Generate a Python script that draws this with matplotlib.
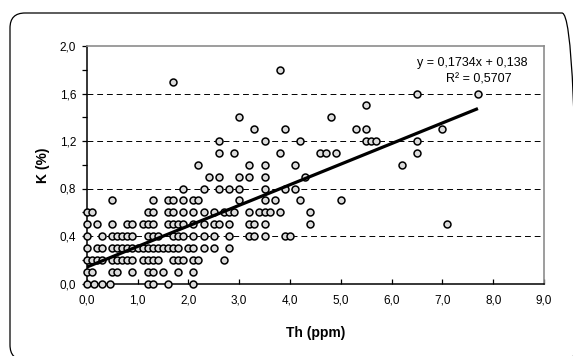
import numpy as np
import matplotlib
matplotlib.use('Agg')
import matplotlib.pyplot as plt
from matplotlib.patches import FancyBboxPatch
from matplotlib.ticker import MultipleLocator, FuncFormatter

# K (%) levels and the Th (ppm) values read for each level
k_levels = [0.0, 0.1, 0.2, 0.3, 0.4, 0.5, 0.6, 0.7, 0.8, 0.9,
            1.0, 1.1, 1.2, 1.3, 1.4, 1.5, 1.6, 1.7, 1.8]
th_by_k = [
    [0.0, 0.15, 0.3, 0.45, 1.2, 1.3, 1.6, 2.1],
    [0.0, 0.1, 0.5, 0.6, 0.9, 1.2, 1.3, 1.5, 1.8, 2.1],
    [0.0, 0.1, 0.2, 0.3, 0.5, 0.6, 0.7, 0.8, 0.9, 1.1, 1.2, 1.3, 1.4,
     1.7, 1.8, 1.9, 2.1, 2.2, 2.7],
    [0.0, 0.2, 0.3, 0.5, 0.6, 0.7, 0.8, 0.9, 1.0, 1.1, 1.2, 1.3, 1.4,
     1.5, 1.6, 1.7, 1.8, 2.0, 2.1, 2.3, 2.5, 2.8],
    [0.0, 0.3, 0.5, 0.6, 0.7, 0.8, 0.9, 1.2, 1.3, 1.4, 1.7, 1.8, 1.9,
     2.1, 2.3, 2.5, 2.8, 3.2, 3.3, 3.5, 3.9, 4.0],
    [0.0, 0.2, 0.5, 0.8, 0.9, 1.1, 1.2, 1.3, 1.6, 1.7, 1.8, 1.9, 2.1,
     2.3, 2.5, 2.6, 2.8, 3.2, 3.3, 3.5, 4.4, 7.1],
    [0.0, 0.1, 1.2, 1.3, 1.6, 1.7, 1.9, 2.1, 2.3, 2.5, 2.7, 2.8, 2.9,
     3.2, 3.4, 3.5, 3.6, 3.8, 4.4],
    [0.5, 1.3, 1.6, 1.7, 1.9, 2.1, 2.2, 3.0, 3.5, 3.7, 4.2, 5.0],
    [1.9, 2.3, 2.6, 2.8, 3.0, 3.5, 3.9, 4.1],
    [2.4, 2.6, 3.0, 3.2, 3.5, 4.3],
    [2.2, 3.2, 3.5, 4.1, 6.2],
    [2.6, 2.9, 3.8, 4.6, 4.7, 4.9, 6.5],
    [2.6, 3.5, 4.2, 5.5, 5.6, 5.7, 6.5],
    [3.3, 3.9, 5.3, 5.5, 7.0],
    [3.0, 4.8],
    [5.5],
    [6.5, 7.7],
    [1.7],
    [3.8],
]

slope = 0.1734
intercept = 0.138
r2 = 0.5707

th = np.concatenate([np.array(v, dtype=float) for v in th_by_k])
k = np.concatenate([np.full(len(v), lv) for v, lv in zip(th_by_k, k_levels)])

plt.rcParams['font.family'] = ['Liberation Sans', 'DejaVu Sans']

W, H = 573, 356
fig = plt.figure(figsize=(W / 100, H / 100), dpi=100)

# rounded chart-area border (partly cut off at right / bottom)
border = FancyBboxPatch((0.10, -0.04), 5.67, 3.47,
                        boxstyle='round,pad=0,rounding_size=0.15',
                        transform=fig.dpi_scale_trans, facecolor='none',
                        edgecolor='black', linewidth=0.9)
fig.patches.append(border)

x0, x1, y0, y1 = 86.7, 544, 46, 283.5
ax = fig.add_axes([x0 / W, 1 - y1 / H, (x1 - x0) / W, (y1 - y0) / H])

ax.set_xlim(0, 9)
ax.set_ylim(0, 2)

for yv in [0.4, 0.8, 1.2, 1.6]:
    ax.axhline(yv, color='black', lw=0.7, ls=(0, (6, 4)), zorder=1)

ax.plot(th, k, 'o', ms=5, mfc='#dcdcdc', mec='black', mew=1.1,
        clip_on=False, zorder=3)

xs = np.array([0, th.max()])
ax.plot(xs, slope * xs + intercept, color='black', lw=2.3, zorder=4,
        solid_capstyle='butt')

comma = FuncFormatter(lambda v, p: f'{v:.1f}'.replace('.', ','))
ax.xaxis.set_major_locator(MultipleLocator(1))
ax.yaxis.set_major_locator(MultipleLocator(0.4))
ax.yaxis.set_minor_locator(MultipleLocator(0.2))
ax.xaxis.set_major_formatter(comma)
ax.yaxis.set_major_formatter(comma)

ax.tick_params(axis='y', which='both', direction='out', length=3.5,
               width=0.9, labelsize=8.5, pad=4)
ax.tick_params(axis='x', which='major', direction='in', length=3.5,
               width=0.9, labelsize=8.5, pad=8)

for s in ['left', 'bottom']:
    ax.spines[s].set_color('black')
    ax.spines[s].set_linewidth(1.1)
for s in ['top', 'right']:
    ax.spines[s].set_color('#8c8c8c')
    ax.spines[s].set_linewidth(1.2)

fig.text(316 / W, 1 - 333 / H, 'Th (ppm)', ha='center', va='center',
         fontsize=10, fontweight='bold')
fig.text(43 / W, 1 - 165 / H, 'K (%)', ha='center', va='center',
         rotation=90, fontsize=10, fontweight='bold')

eq = f'y = {slope:.4f}x + {intercept:.3f}'.replace('.', ',')
fig.text(472.5 / W, 1 - 63 / H, eq, ha='center', va='center', fontsize=9)
fig.text(479 / W, 1 - 80 / H, f'R² = {r2:.4f}'.replace('.', ','),
         ha='center', va='center', fontsize=9)

fig.savefig('out.png', dpi=100)
